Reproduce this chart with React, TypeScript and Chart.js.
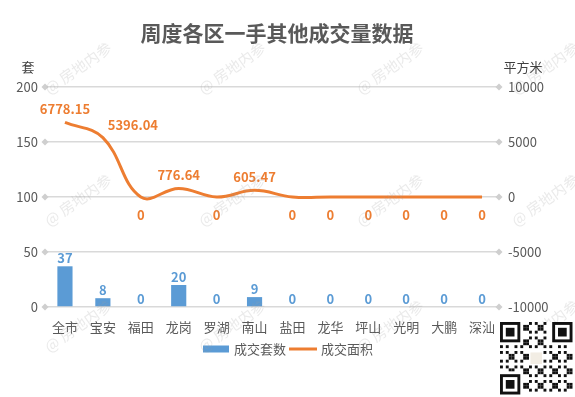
import React, { useEffect, useRef } from "react";
import { Chart, registerables } from "chart.js";

Chart.register(...registerables);

const categories = ["全市", "宝安", "福田", "龙岗", "罗湖", "南山", "盐田", "龙华", "坪山", "光明", "大鹏", "深汕"];
const unitsSold = [37, 8, 0, 20, 0, 9, 0, 0, 0, 0, 0, 0];
const areaSold = [6778.15, 5396.04, 0, 776.64, 0, 605.47, 0, 0, 0, 0, 0, 0];
const leftTicks = { min: 0, max: 200, step: 50 };
const rightTicks = { min: -10000, max: 10000, step: 5000 };

const TITLE = "周度各区一手其他成交量数据";
const BLUE = "#5B9BD5";
const ORANGE = "#ED7D31";
const FONT = "'Noto Sans CJK SC', 'Microsoft YaHei', sans-serif";

const decorPlugin = {
  id: "decor",
  afterDraw(chart: any) {
    const ctx = chart.ctx;
    const area = chart.chartArea;
    ctx.save();
    // title
    ctx.fillStyle = "#595959";
    ctx.font = `bold 21px ${FONT}`;
    ctx.textAlign = "center";
    ctx.textBaseline = "middle";
    ctx.fillText(TITLE, 277, 33);
    // axis titles
    ctx.fillStyle = "#404040";
    ctx.font = `13px ${FONT}`;
    ctx.fillText("套", 28, 67);
    ctx.fillText("平方米", 523, 67);

    // diamonds on gridline ends
    const y = chart.scales.y;
    ctx.fillStyle = "#CFCFCF";
    for (let v = leftTicks.min; v <= leftTicks.max; v += leftTicks.step) {
      const py = y.getPixelForValue(v);
      for (const px of [area.left - 1, area.right - 2]) {
        ctx.beginPath();
        ctx.moveTo(px, py - 3.5);
        ctx.lineTo(px + 3.5, py);
        ctx.lineTo(px, py + 3.5);
        ctx.lineTo(px - 3.5, py);
        ctx.closePath();
        ctx.fill();
      }
    }

    // data labels
    const barMeta = chart.getDatasetMeta(0);
    ctx.font = `bold 13px ${FONT}`;
    ctx.fillStyle = BLUE;
    barMeta.data.forEach((el: any, i: number) => {
      ctx.fillText(String(unitsSold[i]), el.x, el.y - 8);
    });
    const lineMeta = chart.getDatasetMeta(1);
    ctx.fillStyle = ORANGE;
    const nudge: Record<number, number> = { 1: 30 };
    lineMeta.data.forEach((el: any, i: number) => {
      const v = areaSold[i];
      const dx = nudge[i] || 0;
      const dy = v > 0 ? -13 : 18;
      ctx.fillText(v === 0 ? "0" : v.toFixed(2), el.x + dx, el.y + dy);
    });

    // legend
    ctx.textAlign = "left";
    ctx.font = `13px ${FONT}`;
    ctx.fillStyle = BLUE;
    ctx.fillRect(203, 345.5, 26, 7);
    ctx.fillStyle = "#595959";
    ctx.fillText("成交套数", 234, 349);
    ctx.strokeStyle = ORANGE;
    ctx.lineWidth = 3;
    ctx.beginPath();
    ctx.moveTo(289, 349);
    ctx.lineTo(317, 349);
    ctx.stroke();
    ctx.fillStyle = "#595959";
    ctx.fillText("成交面积", 321, 349);

    // watermarks
    ctx.fillStyle = "rgba(160,160,160,0.22)";
    ctx.font = `15px ${FONT}`;
    ctx.textAlign = "center";
    const xs = [78, 232, 390, 545];
    const ys = [68, 200, 326];
    for (const wy of ys) {
      for (const wx of xs) {
        ctx.save();
        ctx.translate(wx, wy);
        ctx.rotate(-35 * Math.PI / 180);
        ctx.fillText("@ 房地内参", 0, 0);
        ctx.restore();
      }
    }

    // QR-like badge
    const qx = 500, qy = 322, n = 25, m = 2.9;
    ctx.fillStyle = "#ffffff";
    ctx.fillRect(qx, qy, n * m, n * m);
    ctx.fillStyle = "#111111";
    const finder = (fx: number, fy: number) => {
      ctx.fillRect(qx + fx * m, qy + fy * m, 7 * m, 7 * m);
      ctx.fillStyle = "#ffffff";
      ctx.fillRect(qx + (fx + 1) * m, qy + (fy + 1) * m, 5 * m, 5 * m);
      ctx.fillStyle = "#111111";
      ctx.fillRect(qx + (fx + 2) * m, qy + (fy + 2) * m, 3 * m, 3 * m);
    };
    for (let i = 0; i < n; i++) {
      for (let j = 0; j < n; j++) {
        const inFinder = (i < 8 && j < 8) || (i < 8 && j > n - 9) || (i > n - 9 && j < 8);
        if (inFinder) continue;
        if (i > 9 && i < 15 && j > 9 && j < 15) continue;
        if (((i * 7 + j * 13 + i * j * 3) % 5) < 2) {
          ctx.fillRect(qx + j * m, qy + i * m, m, m);
        }
      }
    }
    finder(0, 0);
    finder(n - 7, 0);
    finder(0, n - 7);
    ctx.fillStyle = "#f2ede4";
    ctx.fillRect(qx + 10.5 * m, qy + 10.5 * m, 4 * m, 4 * m);
    ctx.restore();
  },
};

export default function App() {
  const ref = useRef<HTMLCanvasElement>(null);
  useEffect(() => {
    document.body.style.margin = "0";
    const chart = new Chart(ref.current!, {
      type: "bar",
      data: {
        labels: categories,
        datasets: [
          {
            type: "bar",
            label: "成交套数",
            data: unitsSold,
            backgroundColor: BLUE,
            yAxisID: "y",
            barPercentage: 0.4,
            categoryPercentage: 1,
            order: 1,
          },
          {
            type: "line",
            label: "成交面积",
            data: areaSold,
            borderColor: ORANGE,
            borderWidth: 3,
            pointRadius: 0,
            tension: 0.4,
            yAxisID: "y1",
            order: 0,
          } as any,
        ],
      },
      options: {
        responsive: false,
        animation: false,
        layout: { padding: { top: 87, bottom: 60, left: 0, right: 0 } },
        plugins: {
          legend: { display: false },
          title: { display: false },
          tooltip: { enabled: false },
        },
        scales: {
          x: {
            offset: true,
            grid: { display: false },
            border: { display: false },
            ticks: { color: "#595959", font: { size: 13, family: FONT }, padding: 4, maxRotation: 0, autoSkip: false },
            afterFit: (s: any) => { s.height = 30; },
          },
          y: {
            position: "left",
            min: leftTicks.min,
            max: leftTicks.max,
            ticks: { stepSize: leftTicks.step, color: "#595959", font: { size: 13, family: FONT }, padding: 8 },
            grid: { color: "#D9D9D9", lineWidth: 1.5, drawTicks: false },
            border: { display: false },
            afterFit: (s: any) => { s.width = 46; },
          },
          y1: {
            position: "right",
            min: rightTicks.min,
            max: rightTicks.max,
            ticks: {
              stepSize: rightTicks.step,
              color: "#595959",
              font: { size: 13, family: FONT },
              padding: 7,
              callback: (v: any) => String(v),
            },
            grid: { display: false, drawTicks: false },
            border: { display: false },
            afterFit: (s: any) => { s.width = 74; },
          },
        },
      },
      plugins: [decorPlugin],
    });
    return () => chart.destroy();
  }, []);
  return (
    <div style={{ position: "absolute", left: 0, top: 0, width: 575, height: 397, background: "#fff" }}>
      <canvas ref={ref} width={575} height={397} />
    </div>
  );
}
